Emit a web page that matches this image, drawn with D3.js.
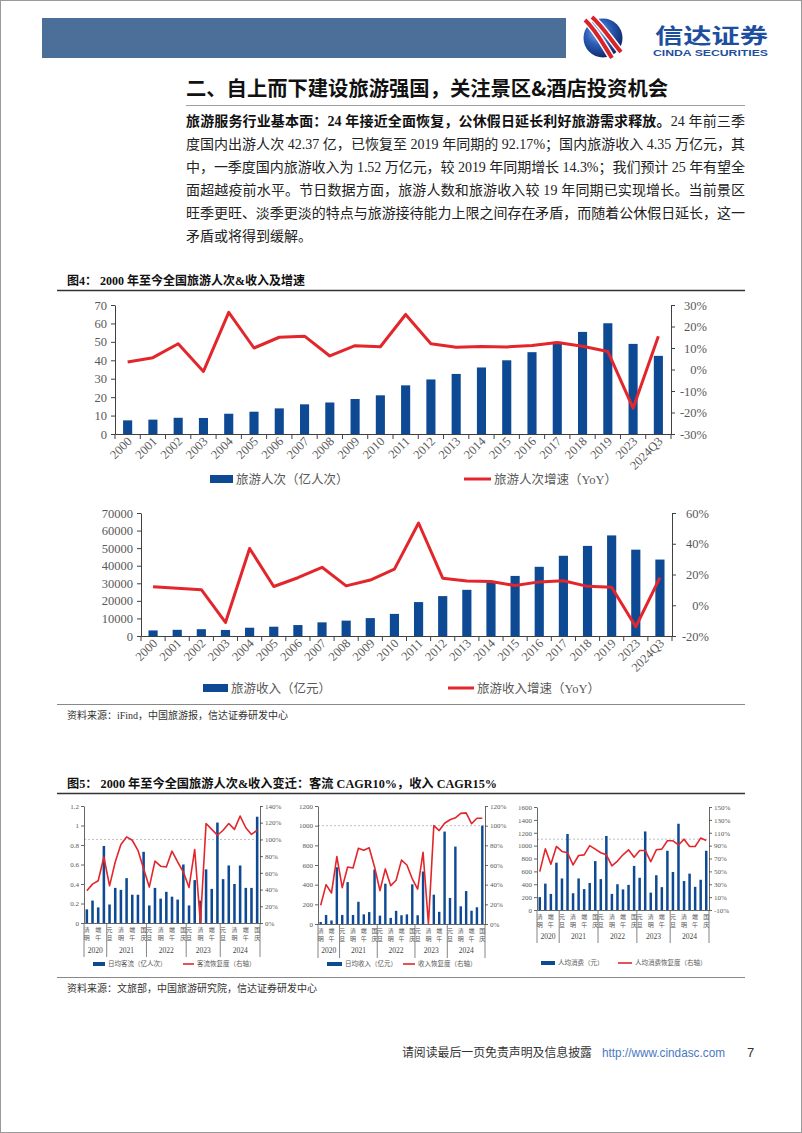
<!DOCTYPE html>
<html><head><meta charset="utf-8">
<script src="https://cdn.jsdelivr.net/npm/d3@7/dist/d3.min.js"></script>
<style>body{margin:0;background:#fff}svg{display:block}</style>
</head><body>
<svg id="c" width="802" height="1133"></svg>
<script>
// ---------------- DATA ----------------
const years = ["2000","2001","2002","2003","2004","2005","2006","2007","2008","2009","2010","2011","2012","2013","2014","2015","2016","2017","2018","2019","2023","2024Q3"];
const tripsValues = [7.4,7.8,8.8,8.7,11.0,12.1,13.9,16.1,17.1,19.0,21.0,26.4,29.6,32.6,36.1,40.0,44.4,50.0,55.4,60.1,48.9,42.4];
const tripsYoY = [3.5,5.5,12.0,-0.9,26.6,10.0,15.0,15.5,6.3,11.1,10.6,25.6,12.0,10.3,10.7,10.5,11.2,12.6,10.8,8.4,-18.0,15.5];
const revenueValues = [3175,3522,3878,3442,4711,5286,6230,7771,8749,10184,12580,19305,22706,26276,30312,34195,39390,45661,51278,57251,49133,43500];
const revenueYoY = [12.1,11.0,10.1,-11.2,36.9,12.2,17.9,24.7,12.6,16.4,23.5,53.5,17.6,15.7,15.4,12.8,15.2,15.9,12.3,11.7,-14.0,18.0];

const holidayYears = ["2020","2021","2022","2023","2024"];
const holidayLabels = [
  ["清明","劳动","端午","国庆"],
  ["元旦","春节","清明","劳动","端午","中秋","国庆"],
  ["元旦","春节","清明","劳动","端午","中秋","国庆"],
  ["元旦","春节","清明","劳动","端午","国庆"],
  ["元旦","春节","清明","劳动","端午","中秋","国庆"]
];
const dailyTrips = [0.14,0.23,0.16,0.79, 0.19,0.36,0.34,0.46,0.29,0.29,0.73, 0.18,0.36,0.25,0.32,0.27,0.24,0.60, 0.18,0.44,0.23,0.55,0.35,1.03, 0.45,0.59,0.40,0.59,0.36,0.36,1.09];
const tripsRecovery = [38.6,46.5,50.5,79, 44.5,73,94,103,99,87,65, 43,74,68,67,86,73,61, 42.5,88,0,119,112,105, 111,119,112,128,114,106,111];
const dailyRevenue = [20,92,36,577, 92,426,92,226,98,121,554, 85,410,62,134,89,98,403, 89,534,0,298,124,940, 265,787,180,335,135,170,1000];
const revenueRecovery = [19,40,31.5,68.5, 37,58,57,77,75,77.5,58, 34,56,39,44.5,65,60,46, 35.5,73,0,100,95,102.5, 106,108,112.5,113,102,107.5,107.5];
const perCapita = [200,410,250,735, 490,1180,260,490,325,420,760, 480,1150,250,400,320,390,685, 500,1220,270,540,355,920, 590,1340,450,565,360,470,920];
const perCapitaRecovery = [49.7,85,61,88.7, 81,79,60,74.7,75.7,90,84.5, 79,75.7,58.6,66,75.7,83.5,72, 82.5,82.5,65,83.5,84.5,97.5, 97.5,91,100,88.7,88.7,101.7,98];

const tripsTicks = [0,10,20,30,40,50,60,70];
const tripsYoYTicks = [-30,-20,-10,0,10,20,30];
const revTicks = [0,10000,20000,30000,40000,50000,60000,70000];
const revYoYTicks = [-20,0,20,40,60];

// ---------------- STYLE ----------------
const svg = d3.select("#c");
const SERIF = "'Liberation Serif','Noto Sans CJK SC',serif";
const CJK = "'Noto Sans CJK SC',sans-serif";
const BLUE = "#0d4a93", RED = "#e3262b", AXIS = "#404040", LAB = "#595959";

function text(x,y,s,o={}){
  const t = svg.append("text").attr("x",x).attr("y",y).text(s)
    .attr("font-family",o.ff||SERIF).attr("font-size",o.fs||12)
    .attr("fill",o.fill||"#222").attr("font-weight",o.fw||400);
  if(o.anchor) t.attr("text-anchor",o.anchor);
  if(o.len) t.attr("textLength",o.len).attr("lengthAdjust","spacingAndGlyphs");
  return t;
}
function hline(x1,x2,y,c,w){svg.append("line").attr("x1",x1).attr("x2",x2).attr("y1",y).attr("y2",y).attr("stroke",c).attr("stroke-width",w);}

// page frame
svg.append("rect").attr("x",0.5).attr("y",0.5).attr("width",801).attr("height",1132).attr("fill","none").attr("stroke","#9a9a9a");

// ---------------- HEADER ----------------
svg.append("rect").attr("x",42).attr("y",18).attr("width",524).attr("height",40).attr("fill","#4b6f99");
const defs = svg.append("defs");
const rg = defs.append("radialGradient").attr("id","sph").attr("cx","38%").attr("cy","35%").attr("r","70%");
rg.append("stop").attr("offset","0").attr("stop-color","#8fb3e8");
rg.append("stop").attr("offset","0.45").attr("stop-color","#2d60b8");
rg.append("stop").attr("offset","1").attr("stop-color","#0b2466");
svg.append("circle").attr("cx",603).attr("cy",38).attr("r",19.5).attr("fill","url(#sph)");
const swoosh = ["M585,20 C596,30 603,44 612,58","M592,17 C603,27 611,40 621,52"];
swoosh.forEach(p=>svg.append("path").attr("d",p).attr("fill","none").attr("stroke","#fff").attr("stroke-width",7));
swoosh.forEach(p=>svg.append("path").attr("d",p).attr("fill","none").attr("stroke","#d8232a").attr("stroke-width",4));
text(655,43,"信达证券",{ff:CJK,fs:21,fw:700,fill:"#1e4f9f",len:113});
text(653,56,"CINDA SECURITIES",{ff:"'Liberation Sans',Arial,sans-serif",fs:9.5,fw:700,fill:"#1e4f9f",len:115});

// section title
text(186,96,"二、自上而下建设旅游强国，关注景区&酒店投资机会",{ff:CJK,fs:20,fw:700,fill:"#111",len:482});
hline(186,745,105.5,"#a0a0a0",1);

// paragraph
const para = [
  ["旅游服务行业基本面：24 年接近全面恢复，公休假日延长利好旅游需求释放。","24 年前三季",true],
  ["度国内出游人次 42.37 亿，已恢复至 2019 年同期的 92.17%；国内旅游收入 4.35 万亿元，其","",true],
  ["中，一季度国内旅游收入为 1.52 万亿元，较 2019 年同期增长 14.3%；我们预计 25 年有望全","",true],
  ["面超越疫前水平。节日数据方面，旅游人数和旅游收入较 19 年同期已实现增长。当前景区","",true],
  ["旺季更旺、淡季更淡的特点与旅游接待能力上限之间存在矛盾，而随着公休假日延长，这一","",true],
  ["矛盾或将得到缓解。","",false]
];
para.forEach((p,i)=>{
  const y = 126 + i*23;
  const t = svg.append("text").attr("x",186).attr("y",y).attr("font-family",SERIF).attr("font-size",14).attr("fill","#222");
  if(i===0){
    t.append("tspan").attr("font-weight",700).attr("fill","#111").text(p[0]);
    t.append("tspan").text(p[1]);
  } else t.text(p[0]);
  if(p[2]) t.attr("textLength",559).attr("lengthAdjust","spacing");
});

// ---------------- FIGURE 4 ----------------
text(67,285,"图4：  2000 年至今全国旅游人次&收入及增速",{fs:12.5,fw:700,fill:"#111",len:238});
hline(57,745,290.5,"#333",1.4);

function comboChart(o){
  const g = svg.append("g");
  const x = d3.scaleBand().domain(o.cats).range([o.x0,o.x1]).paddingInner(o.pi).paddingOuter(o.pi/2);
  const yL = d3.scaleLinear().domain(o.lDom).range([o.yB,o.yT]);
  const yR = d3.scaleLinear().domain(o.rDom).range([o.yB,o.yT]);
  if(o.dash!=null){
    g.append("line").attr("x1",o.x0).attr("x2",o.x1).attr("y1",yR(o.dash)).attr("y2",yR(o.dash))
     .attr("stroke","#b0b0b0").attr("stroke-width",0.8).attr("stroke-dasharray","2,2");
  }
  g.selectAll("rect.b").data(o.bars).join("rect").attr("class","b")
    .attr("x",(d,i)=>x(o.cats[i])).attr("width",x.bandwidth())
    .attr("y",d=>yL(d)).attr("height",d=>yL(o.lDom[0])-yL(d)).attr("fill",BLUE);
  const la = g.append("g").attr("transform",`translate(${o.x0},0)`)
    .call(d3.axisLeft(yL).tickValues(o.lTicks).tickSize(o.ts).tickSizeOuter(0).tickPadding(o.tp).tickFormat(o.lFmt));
  const ra = g.append("g").attr("transform",`translate(${o.x1},0)`)
    .call(d3.axisRight(yR).tickValues(o.rTicks).tickSize(o.ts).tickSizeOuter(0).tickPadding(o.tp).tickFormat(d=>d+"%"));
  [la,ra].forEach(a=>{
    a.select(".domain").attr("stroke",AXIS).attr("stroke-width",o.aw);
    a.selectAll(".tick line").attr("stroke",AXIS).attr("stroke-width",o.aw);
    a.selectAll("text").attr("font-family",SERIF).attr("font-size",o.fs).attr("fill",LAB);
  });
  if(o.rAlignEnd!=null) ra.selectAll("text").attr("text-anchor","end").attr("x",o.rAlignEnd);
  const xa = g.append("g").attr("transform",`translate(0,${o.yB})`)
    .call(d3.axisBottom(x).tickSize(0).tickSizeOuter(0).tickFormat(""));
  xa.select(".domain").attr("stroke",AXIS).attr("stroke-width",o.aw);
  const step = x.step();
  const bounds = d3.range(o.cats.length+1).map(i=>o.x0+i*step);
  if(o.xTick){
    g.selectAll("line.xt").data(bounds).join("line").attr("class","xt")
      .attr("x1",d=>d).attr("x2",d=>d).attr("y1",o.yB).attr("y2",o.yB+o.xTick)
      .attr("stroke",AXIS).attr("stroke-width",o.aw);
  }
  const line = d3.line().x((d,i)=>x(o.cats[i])+x.bandwidth()/2).y(d=>yR(d));
  g.append("path").datum(o.line).attr("d",line).attr("fill","none").attr("stroke",RED)
    .attr("stroke-width",o.lw).attr("stroke-linejoin","round");
  return {g,x,yL,yR,bounds};
}

function rotatedLabels(c,o){
  c.g.selectAll("text.xl").data(o.cats).join("text").attr("class","xl")
    .attr("transform",d=>`translate(${c.x(d)+c.x.bandwidth()/2+5},${o.yB+8}) rotate(-45)`)
    .attr("text-anchor","end").attr("font-family",SERIF).attr("font-size",12.5).attr("fill",LAB).text(d=>d);
}
function legend(items,y,o){
  items.forEach(it=>{
    if(it.type==="bar") svg.append("rect").attr("x",it.x).attr("y",y-o.bh/2).attr("width",it.w).attr("height",o.bh).attr("fill",BLUE);
    else svg.append("line").attr("x1",it.x).attr("x2",it.x+it.w).attr("y1",y).attr("y2",y).attr("stroke",RED).attr("stroke-width",o.lw);
    text(it.x+it.w+3,y+o.fs*0.36,it.label,{fs:o.fs,fill:LAB});
  });
}

const c1o = {cats:years,x0:115,x1:671,yT:305,yB:434,pi:0.64,lDom:[0,70],rDom:[-30,30],
  lTicks:tripsTicks,rTicks:tripsYoYTicks,ts:4,tp:4,fs:12.5,aw:1,lw:3,xTick:5,bars:tripsValues,line:tripsYoY,
  lFmt:d=>d,rAlignEnd:36};
const c1 = comboChart(c1o); rotatedLabels(c1,c1o);
legend([{type:"bar",x:210,w:23,label:"旅游人次（亿人次）"},{type:"line",x:464,w:27,label:"旅游人次增速（YoY）"}],479,{bh:8,lw:3,fs:12.5});

const c2o = {cats:years,x0:141,x1:672,yT:513,yB:636,pi:0.62,lDom:[0,70000],rDom:[-20,60],
  lTicks:revTicks,rTicks:revYoYTicks,ts:4,tp:4,fs:12.5,aw:1,lw:3,xTick:5,bars:revenueValues,line:revenueYoY,
  lFmt:d=>d,rAlignEnd:37};
const c2 = comboChart(c2o); rotatedLabels(c2,c2o);
legend([{type:"bar",x:203,w:25,label:"旅游收入（亿元）"},{type:"line",x:448,w:26,label:"旅游收入增速（YoY）"}],688,{bh:8,lw:3,fs:12.5});

hline(57,745,704.5,"#888",1);
text(67,719,"资料来源：iFind，中国旅游报，信达证券研发中心",{fs:10,fill:"#333"});

// ---------------- FIGURE 5 ----------------
text(67,788,"图5：  2000 年至今全国旅游人次&收入变迁：客流 CAGR10%，收入 CAGR15%",{fs:12.5,fw:700,fill:"#111",len:430});
hline(57,745,793.5,"#333",1.4);

const holidayCats = [];
const groupIdx = [];
holidayLabels.forEach((grp,gi)=>grp.forEach((h,j)=>{holidayCats.push(holidayYears[gi]+"-"+h+"-"+j);groupIdx.push([gi,j,h]);}));

function smallChart(o){
  const c = comboChart(Object.assign({cats:holidayCats,pi:0.55,ts:3,tp:2,fs:7,aw:0.8,lw:1.6,xTick:0,rAlignEnd:null},o));
  holidayCats.forEach((d,i)=>{
    const [gi,j,h] = groupIdx[i];
    if(j%2!==0) return;
    const cx = c.x(d)+c.x.bandwidth()/2;
    [...h].forEach((ch,k)=>{
      c.g.append("text").attr("x",cx).attr("y",o.yB+9+k*7.5).attr("text-anchor","middle")
        .attr("font-family",CJK).attr("font-size",6).attr("fill","#555").text(ch);
    });
  });
  let start = 0;
  holidayLabels.forEach((grp,gi)=>{
    const x0 = c.bounds[start], x1 = c.bounds[start+grp.length];
    c.g.append("text").attr("x",(x0+x1)/2).attr("y",o.yYear).attr("text-anchor","middle")
      .attr("font-family",SERIF).attr("font-size",7.5).attr("fill","#444").text(holidayYears[gi]);
    start += grp.length;
  });
  let s2 = 0;
  const seps = [0];
  holidayLabels.forEach(grp=>{s2+=grp.length;seps.push(s2);});
  seps.forEach(k=>{
    c.g.append("line").attr("x1",c.bounds[k]).attr("x2",c.bounds[k]).attr("y1",o.yB).attr("y2",o.yB+o.sepLen)
      .attr("stroke","#666").attr("stroke-width",0.8);
  });
  return c;
}

smallChart({x0:84,x1:260,yT:806,yB:923,lDom:[0,1.2],rDom:[0,140],lTicks:[0,0.2,0.4,0.6,0.8,1,1.2],
  rTicks:[0,20,40,60,80,100,120,140],bars:dailyTrips,line:tripsRecovery,lFmt:d=>d3.format("~g")(d),dash:100,yYear:953,sepLen:34});
legend([{type:"bar",x:93,w:12,label:"日均客流（亿人次）"},{type:"line",x:183,w:11,label:"客流恢复度（右轴）"}],964,{bh:4,lw:1.6,fs:6.5});

smallChart({x0:318,x1:485,yT:806,yB:924,lDom:[0,1200],rDom:[0,120],lTicks:[0,200,400,600,800,1000,1200],
  rTicks:[0,20,40,60,80,100,120],bars:dailyRevenue,line:revenueRecovery,lFmt:d=>d,dash:100,yYear:953,sepLen:34});
legend([{type:"bar",x:327,w:15,label:"日均收入（亿元）"},{type:"line",x:403,w:12,label:"收入恢复度（右轴）"}],964,{bh:4,lw:1.6,fs:6.5});

smallChart({x0:537,x1:709,yT:807,yB:910,lDom:[0,1600],rDom:[-10,150],lTicks:[0,200,400,600,800,1000,1200,1400,1600],
  rTicks:[-10,10,30,50,70,90,110,130,150],bars:perCapita,line:perCapitaRecovery,lFmt:d=>d,dash:100,yYear:939,sepLen:33});
legend([{type:"bar",x:541,w:14,label:"人均消费（元）"},{type:"line",x:618,w:14,label:"人均消费恢复度（右轴）"}],963,{bh:4,lw:1.6,fs:6.5});

hline(57,745,977.5,"#888",1);
text(67,992,"资料来源：文旅部，中国旅游研究院，信达证券研发中心",{fs:10,fill:"#333"});

// ---------------- FOOTER ----------------
text(402,1057,"请阅读最后一页免责声明及信息披露",{fs:12,fill:"#333",len:190});
text(602,1057,"http://www.cindasc.com",{ff:"'Liberation Sans',Arial,sans-serif",fs:12.5,fill:"#4a78c2",len:123});
text(747,1057,"7",{ff:"'Liberation Sans',Arial,sans-serif",fs:13,fill:"#333"});
</script>
</body></html>
